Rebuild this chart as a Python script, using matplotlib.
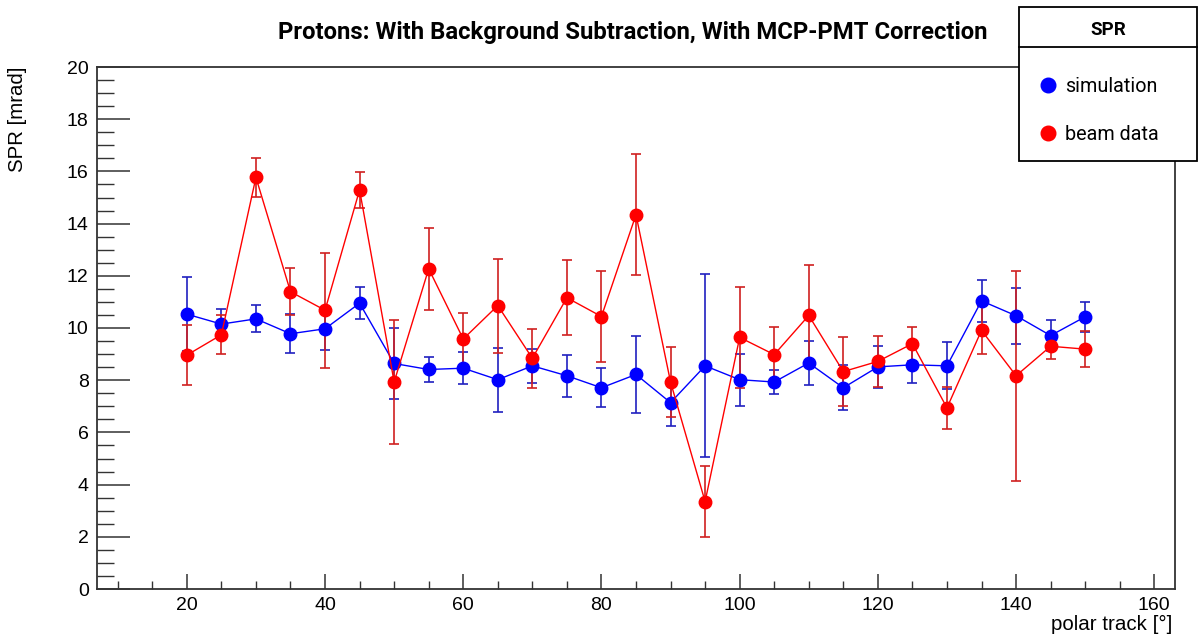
import matplotlib.pyplot as plt
from matplotlib.patches import Rectangle
from matplotlib.lines import Line2D
from matplotlib.ticker import MultipleLocator

angles = [20, 25, 30, 35, 40, 45, 50, 55, 60, 65, 70, 75, 80, 85,
          90, 95, 100, 105, 110, 115, 120, 125, 130, 135, 140, 145, 150]

sim_spr = [10.53, 10.15, 10.35, 9.78, 9.97, 10.95, 8.64, 8.41, 8.46, 8.02,
           8.55, 8.17, 7.71, 8.22, 7.14, 8.55, 8.02, 7.93, 8.66, 7.71,
           8.51, 8.59, 8.55, 11.04, 10.47, 9.71, 10.43]
sim_err = [1.43, 0.58, 0.52, 0.75, 0.80, 0.61, 1.37, 0.48, 0.62, 1.23,
           0.66, 0.80, 0.74, 1.48, 0.90, 3.50, 1.00, 0.46, 0.83, 0.86,
           0.80, 0.70, 0.90, 0.80, 1.07, 0.60, 0.57]

data_spr = [8.96, 9.74, 15.77, 11.39, 10.68, 15.29, 7.93, 12.27, 9.58, 10.86,
            8.84, 11.16, 10.44, 14.34, 7.93, 3.35, 9.64, 8.98, 10.48, 8.33,
            8.72, 9.40, 6.94, 9.91, 8.17, 9.30, 9.19]
data_err = [1.15, 0.74, 0.76, 0.89, 2.20, 0.68, 2.37, 1.57, 1.00, 1.80,
            1.14, 1.44, 1.75, 2.31, 1.33, 1.37, 1.95, 1.05, 1.95, 1.33,
            0.98, 0.65, 0.80, 0.92, 4.03, 0.50, 0.70]

plt.rcParams['font.family'] = ['Liberation Sans', 'DejaVu Sans']

W, H = 1198, 636
fig = plt.figure(figsize=(W / 100, H / 100), dpi=100)
ax = fig.add_axes([97 / W, 1 - 589 / H, (1175 - 97) / W, (589 - 67) / H])

ax.errorbar(angles, sim_spr, yerr=sim_err, color='#0000ff', ecolor='#2020c0',
            marker='o', markersize=9, linewidth=1.0, elinewidth=1.2,
            capsize=3.5, capthick=1.2, label='simulation')
ax.errorbar(angles, data_spr, yerr=data_err, color='#ff0000', ecolor='#d02020',
            marker='o', markersize=9, linewidth=1.0, elinewidth=1.2,
            capsize=3.5, capthick=1.2, label='beam data')

ax.set_xlim(7, 163)
ax.set_ylim(0, 20)
ax.xaxis.set_major_locator(MultipleLocator(20))
ax.xaxis.set_minor_locator(MultipleLocator(5))
ax.yaxis.set_major_locator(MultipleLocator(2))
ax.yaxis.set_minor_locator(MultipleLocator(0.5))
ax.tick_params(axis='x', which='major', direction='in', length=11, width=1.1,
               pad=6, labelsize=14, colors='#333333', labelcolor='black')
ax.tick_params(axis='x', which='minor', direction='in', length=5.5, width=1.0,
               colors='#333333')
ax.tick_params(axis='y', which='major', direction='in', length=23.5, width=1.1,
               pad=6, labelsize=14, colors='#333333', labelcolor='black')
ax.tick_params(axis='y', which='minor', direction='in', length=12, width=1.0,
               colors='#333333')
for sp in ax.spines.values():
    sp.set_color('#333333')
    sp.set_linewidth(1.3)

fig.text(18 / W, 1 - 67 / H, 'SPR [mrad]', rotation=90, ha='center', va='top',
         fontsize=14.7)
fig.text(1172 / W, 1 - 624 / H, 'polar track [°]', ha='right', va='center',
         fontsize=14.8)
fig.text(633 / W, 1 - 32 / H, 'Protons: With Background Subtraction, With MCP-PMT Correction',
         ha='center', va='center', fontsize=17.2, fontweight='bold', family='Roboto')

# legend box
fig.patches.append(Rectangle((1019 / W, 1 - 161 / H), 178 / W, 154 / H,
                             transform=fig.transFigure, facecolor='white',
                             edgecolor='black', linewidth=1.3, zorder=5))
fig.lines.append(Line2D([1019 / W, 1197 / W], [1 - 47 / H, 1 - 47 / H],
                        transform=fig.transFigure, color='black', linewidth=1.3,
                        zorder=6))
fig.text(1108 / W, 1 - 30 / H, 'SPR', ha='center', va='center', fontsize=13.5,
         fontweight='bold', family='Roboto', zorder=7)
handles = [Line2D([], [], color='#0000ff', marker='o', markersize=10.5, ls='none'),
           Line2D([], [], color='#ff0000', marker='o', markersize=10.5, ls='none')]
leg = fig.legend(handles, ['simulation', 'beam data'], loc='center left',
                 bbox_to_anchor=(1028 / W, 1 - 110.5 / H), frameon=False,
                 prop={'family': 'Roboto', 'size': 14.2}, handlelength=1.0,
                 handletextpad=0.4, labelspacing=1.45, borderpad=0)
leg.set_zorder(8)

fig.savefig('out.png', dpi=100)
